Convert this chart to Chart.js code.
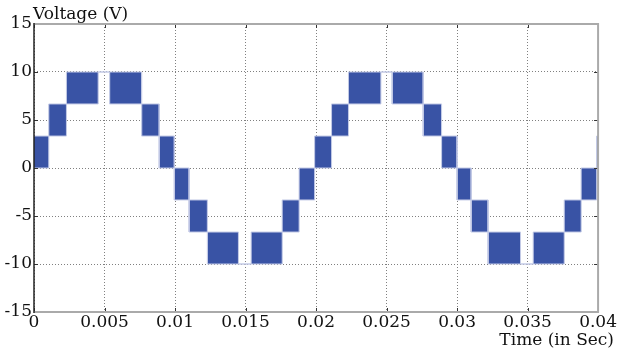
<!DOCTYPE html>
<html>
<head>
<meta charset="utf-8">
<script src="https://cdn.jsdelivr.net/npm/chart.js@4/dist/chart.umd.min.js"></script>
<style>
  html, body { margin: 0; padding: 0; background: #fff; }
  #wrap { width: 617px; height: 354px; }
</style>
</head>
<body>
<div id="wrap"><canvas id="wave"></canvas></div>
<script>
// switching instants (s), one more than the segments
var edges = [0, 0.00105, 0.0023, 0.00455, 0.00536, 0.00763, 0.00888, 0.00995,
  0.0110, 0.0123, 0.0145, 0.0154, 0.0176, 0.0188, 0.0199,
  0.0211, 0.0223, 0.0246, 0.0254, 0.0276, 0.0289, 0.0300,
  0.0310, 0.0322, 0.0345, 0.0354, 0.0376, 0.0388, 0.0399, 0.041];
// top and bottom of each block (V)
var upper = [3.33, 6.67, 10, 10, 10, 6.67, 3.33, 0, -3.33, -6.67, -10, -6.67, -3.33, 0,
  3.33, 6.67, 10, 10, 10, 6.67, 3.33, 0, -3.33, -6.67, -10, -6.67, -3.33, 0, 3.33];
var lower = [0, 3.33, 6.67, 10, 6.67, 3.33, 0, -3.33, -6.67, -10, -10, -10, -6.67, -3.33,
  0, 3.33, 6.67, 10, 6.67, 3.33, 0, -3.33, -6.67, -10, -10, -10, -6.67, -3.33, 0];
var xTicks = [0, 0.005, 0.01, 0.015, 0.02, 0.025, 0.03, 0.035, 0.04];
var yTicks = [-15, -10, -5, 0, 5, 10, 15];

function steps(vals) {
  var pts = [];
  for (var i = 0; i < vals.length; i++) {
    pts.push({ x: edges[i], y: vals[i] });
    pts.push({ x: edges[i + 1], y: vals[i] });
  }
  return pts;
}

var serif = 'DejaVu Serif';
var frame = {
  id: 'frame',
  afterDatasetsDraw: function (chart) {
    var c = chart.ctx, a = chart.chartArea;
    var sx = chart.scales.x, sy = chart.scales.y;
    c.save();
    // inward tick marks
    c.strokeStyle = '#333';
    c.lineWidth = 1;
    c.beginPath();
    xTicks.forEach(function (v) {
      var px = Math.round(sx.getPixelForValue(v)) + 0.5;
      c.moveTo(px, a.bottom); c.lineTo(px, a.bottom - 4);
      c.moveTo(px, a.top); c.lineTo(px, a.top + 4);
    });
    yTicks.forEach(function (v) {
      var py = Math.round(sy.getPixelForValue(v)) + 0.5;
      c.moveTo(a.left, py); c.lineTo(a.left + 4, py);
      c.moveTo(a.right, py); c.lineTo(a.right - 4, py);
    });
    c.stroke();
    // grey box edges
    c.strokeStyle = '#aaaaaa';
    c.lineWidth = 2;
    c.beginPath();
    c.moveTo(a.left, a.top); c.lineTo(a.right, a.top); c.lineTo(a.right, a.bottom); c.lineTo(a.left, a.bottom);
    c.stroke();
    c.strokeStyle = '#222';
    c.lineWidth = 1.5;
    c.beginPath();
    c.moveTo(a.left, a.top - 1); c.lineTo(a.left, a.bottom + 1);
    c.stroke();
    // axis names
    c.fillStyle = '#111';
    c.font = '17px "' + serif + '"';
    c.textBaseline = 'alphabetic';
    c.textAlign = 'left';
    c.fillText('Voltage (V)', 33, 19);
    c.textAlign = 'right';
    c.fillText('Time (in Sec)', 614, 345);
    c.restore();
  }
};

var blue = '#3953a5';
new Chart(document.getElementById('wave'), {
  type: 'line',
  data: {
    datasets: [
      { data: steps(lower), borderColor: '#c3cae6', borderWidth: 1, pointRadius: 0, fill: false },
      { data: steps(upper), borderColor: '#c3cae6', borderWidth: 1, pointRadius: 0, fill: '-1', backgroundColor: blue }
    ]
  },
  plugins: [frame],
  options: {
    responsive: true,
    maintainAspectRatio: false,
    animation: false,
    layout: { padding: { top: 24, right: 13, left: 0, bottom: 0 } },
    plugins: { legend: { display: false }, tooltip: { enabled: false } },
    scales: {
      x: {
        type: 'linear', min: 0, max: 0.04,
        afterBuildTicks: function (s) { s.ticks = xTicks.map(function (v) { return { value: v }; }); },
        afterFit: function (s) { s.height = 42; },
        ticks: { color: '#111', font: { family: serif, size: 17 }, padding: 0, maxRotation: 0,
          callback: function (v) { return String(v); } },
        grid: { color: '#808080', drawTicks: false },
        border: { display: false, dash: [1, 2] }
      },
      y: {
        min: -15, max: 15,
        afterBuildTicks: function (s) { s.ticks = yTicks.map(function (v) { return { value: v }; }); },
        afterFit: function (s) { s.width = 34; },
        ticks: { color: '#111', font: { family: serif, size: 17 }, padding: 2 },
        grid: { color: '#808080', drawTicks: false },
        border: { display: false, dash: [1, 2] }
      }
    }
  }
});
</script>
</body>
</html>
